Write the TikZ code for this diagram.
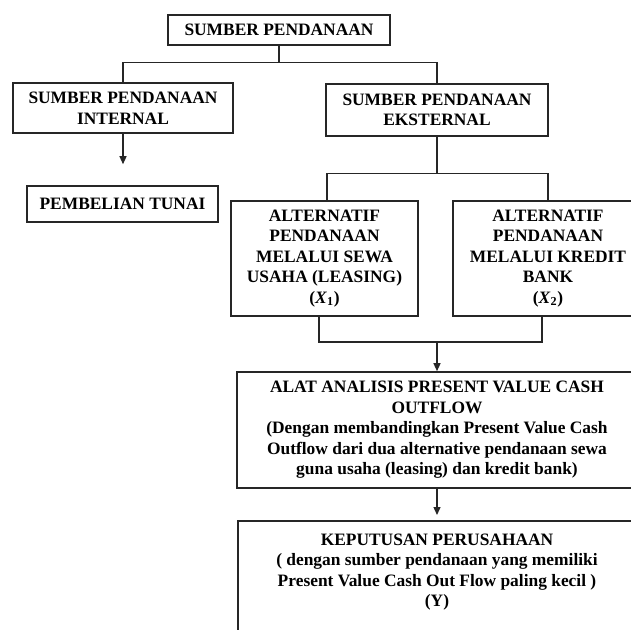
\documentclass[tikz,border=0pt]{standalone}
\usepackage{fontspec}
\setmainfont{Liberation Serif}
\usetikzlibrary{arrows.meta}

\tikzset{
  kotak/.style={draw=black!85, line width=1.6pt, align=center, inner sep=0pt,
    font=\fontsize{17.4}{20.5}\selectfont\bfseries},
  garis/.style={draw=black!85, line width=1.3pt},
  panah/.style={garis, -{Triangle[width=7pt,length=8pt]}},
}

\begin{document}
\begin{tikzpicture}[x=1pt, y=-1pt]
  \useasboundingbox (0,0) rectangle (631,629);
  \clip (0,0) rectangle (631,629);
  % sumber
  \node[kotak, minimum width=222pt, minimum height=30pt] (sumber) at (279,30) {SUMBER PENDANAAN};
  \node[kotak, minimum width=220pt, minimum height=50pt] (internal) at (123,108) {SUMBER PENDANAAN\\INTERNAL};
  \node[kotak, minimum width=222pt, minimum height=52pt] (eksternal) at (437,110) {SUMBER PENDANAAN\\EKSTERNAL};
  \node[kotak, minimum width=191pt, minimum height=36pt] (tunai) at (122.5,204) {PEMBELIAN TUNAI};
  % alternatif
  \node[kotak, minimum width=187pt, minimum height=115pt] (leasing) at (324.5,258.5)
    {ALTERNATIF\\PENDANAAN\\MELALUI SEWA\\USAHA (LEASING)\\(\textit{X}\textsubscript{1})};
  \node[kotak, minimum width=190pt, minimum height=115pt] (kredit) at (548,258.5)
    {ALTERNATIF\\PENDANAAN\\MELALUI KREDIT\\BANK\\(\textit{X}\textsubscript{2})};
  % analisis dan keputusan
  \node[kotak, minimum width=400pt, minimum height=116pt] (analisis) at (437,430)
    {ALAT ANALISIS PRESENT VALUE CASH\\OUTFLOW\\(Dengan membandingkan Present Value Cash\\Outflow dari dua alternative pendanaan sewa\\guna usaha (leasing) dan kredit bank)};
  \node[kotak, minimum width=398pt, inner ysep=13pt, anchor=north] (keputusan) at (437,520)
    {KEPUTUSAN PERUSAHAAN\\( dengan sumber pendanaan yang memiliki\\Present Value Cash Out Flow paling kecil )\\(Y)\\[0pt]\rule{0pt}{40pt}};
  % connectors
  \draw[garis] (sumber.south) -- ++(0,17) coordinate (cabang1);
  \draw[garis] (internal.north) |- (cabang1) -| (eksternal.north);
  \draw[panah, shorten >=21pt] (internal.south) -- (internal.south |- tunai.north);
  \draw[garis] (eksternal.south) -- ++(0,37) coordinate (cabang2);
  \draw[garis] ([xshift=2.5pt]leasing.north) |- (cabang2) -| (kredit.north);
  \coordinate (cabang3) at (437,342);
  \draw[garis] ([xshift=-5.5pt]leasing.south) |- (cabang3) -| ([xshift=-6pt]kredit.south);
  \draw[panah] (cabang3) -- (analisis.north);
  \draw[panah, shorten >=5pt] (analisis.south) -- (keputusan.north);
\end{tikzpicture}
\end{document}
